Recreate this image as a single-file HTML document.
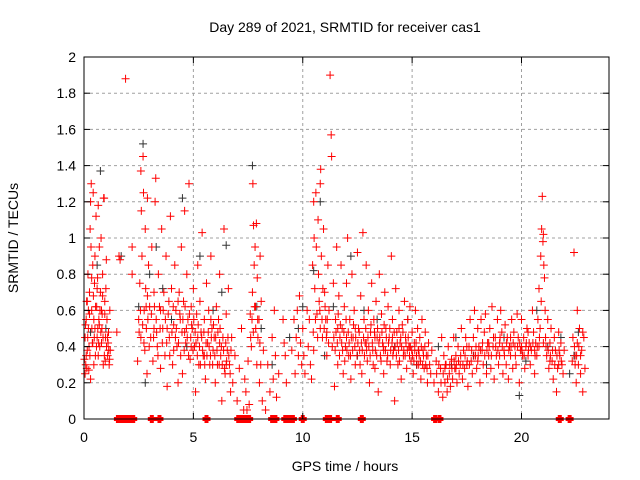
<!DOCTYPE html>
<html><head><meta charset="utf-8">
<style>
html,body{margin:0;padding:0;background:#fff;}
svg{display:block;font-family:"Liberation Sans",sans-serif;}
</style></head>
<body>
<svg id="chart" width="640" height="480" viewBox="0 0 640 480" xmlns="http://www.w3.org/2000/svg">
<rect x="0" y="0" width="640" height="480" fill="#fff"/>
<text x="345" y="32" text-anchor="middle" font-size="14">Day 289 of 2021, SRMTID for receiver cas1</text>
<g id="grid"></g>
<g id="gray"></g>
<g id="red"></g>
<g id="axes"></g>
<text x="345" y="471" text-anchor="middle" font-size="14">GPS time / hours</text>
<text transform="translate(18,238) rotate(-90)" text-anchor="middle" font-size="14">SRMTID / TECUs</text>
</svg>
<script>
const xTicks = [0,5,10,15,20];
const yTicks = [0,0.2,0.4,0.6,0.8,1,1.2,1.4,1.6,1.8,2];
const yTickLabels = ["0","0.2","0.4","0.6","0.8","1","1.2","1.4","1.6","1.8","2"];
const redPts = [
[0.05,0.25],[0.05,0.45],[0.08,0.3],[0.1,0.55],[0.12,0.65],[0.15,0.38],[0.18,0.8],[0.2,0.5],[0.22,0.27],[0.25,0.7],
[0.28,1.05],[0.3,1.2],[0.32,0.95],[0.33,1.3],[0.35,0.6],[0.38,0.42],[0.4,0.85],[0.42,1.25],[0.45,0.55],[0.48,0.75],
[0.5,0.9],[0.52,0.35],[0.55,1.12],[0.58,0.62],[0.6,0.45],[0.62,0.78],[0.65,1.18],[0.68,0.55],[0.7,0.95],[0.72,0.4],
[0.75,0.7],[0.78,1.0],[0.8,0.6],[0.82,0.5],[0.85,0.8],[0.88,0.3],[0.9,1.22],[0.92,1.22],[0.95,0.65],[0.98,0.45],
[1.0,0.72],[1.02,0.88],[1.05,0.55],[1.08,0.35],[1.1,0.42],[1.12,0.48],[1.15,0.3],[1.18,0.6],[1.2,0.38],[0.15,0.65],
[0.25,0.58],[0.4,0.42],[0.6,0.72],[0.7,0.52],[0.85,0.68],[0.3,0.22],[0.45,0.3],[1.5,0.48],[1.6,0.9],[1.65,0.88],
[1.9,1.88],[2.2,0.95],[2.2,0.8],[2.45,0.32],[2.5,0.55],[2.55,0.75],[2.6,1.37],[2.62,1.15],[2.65,0.9],[2.7,1.45],
[2.72,1.25],[2.75,0.6],[2.78,0.38],[2.8,1.05],[2.82,0.72],[2.85,0.5],[2.88,0.25],[2.9,1.22],[2.95,0.85],[3.0,0.62],
[3.05,0.45],[3.1,0.95],[3.15,0.32],[3.2,0.7],[3.25,1.2],[3.28,1.33],[3.3,0.55],[3.35,0.4],[3.4,0.8],[3.45,0.62],
[3.5,0.28],[3.55,1.05],[3.6,0.5],[3.65,0.7],[3.7,0.35],[3.75,0.9],[3.8,0.18],[3.85,0.58],[3.9,0.45],[3.95,1.12],
[4.0,0.72],[4.05,0.3],[4.1,0.52],[4.15,0.85],[4.2,0.6],[4.25,0.4],[4.3,0.2],[4.35,0.7],[4.4,0.55],[4.45,0.95],
[4.5,0.25],[4.55,0.65],[4.6,1.15],[4.65,0.42],[4.7,0.8],[4.75,0.55],[4.8,1.3],[4.85,0.33],[4.9,0.62],[4.95,0.5],
[5.0,0.72],[5.05,0.4],[5.1,0.15],[5.15,0.58],[5.2,0.85],[5.25,0.3],[5.3,0.65],[5.35,0.48],[5.4,1.03],[5.45,0.35],
[5.5,0.55],[5.55,0.22],[5.6,0.75],[5.65,0.42],[5.7,0.6],[5.75,0.3],[5.8,0.9],[5.85,0.5],[5.9,0.38],[5.95,0.45],
[6.0,0.2],[6.05,0.62],[6.1,0.3],[6.15,0.55],[6.2,0.8],[6.25,0.35],[6.3,0.1],[6.35,0.45],[6.4,1.05],[6.45,0.25],
[6.5,0.58],[6.55,0.38],[6.6,0.72],[6.65,0.3],[6.7,0.15],[6.75,0.45],[6.8,0.2],[6.9,0.35],[7.0,0.1],[7.1,0.28],
[7.2,0.5],[7.3,0.05],[7.35,0.22],[7.4,0.15],[7.45,0.05],[7.5,0.32],[7.55,0.08],[7.6,0.58],[7.65,0.4],[7.7,0.7],
[7.72,1.3],[7.75,1.07],[7.78,0.85],[7.8,0.62],[7.82,0.95],[7.85,0.5],[7.88,1.08],[7.9,0.3],[7.92,0.78],[7.95,0.45],
[8.0,0.55],[8.02,0.2],[8.05,0.9],[8.1,0.65],[8.15,0.1],[8.2,0.38],[8.3,0.05],[8.4,0.3],[8.5,0.15],[8.6,0.45],
[8.65,0.22],[8.7,0.6],[8.75,0.35],[8.8,0.12],[8.9,0.25],[9.1,0.55],[9.15,0.42],[9.2,0.35],[9.25,0.2],[9.5,0.38],
[9.6,0.55],[9.65,0.25],[9.7,0.45],[9.75,0.6],[9.8,0.35],[9.85,0.68],[9.9,0.42],[9.95,0.3],[10.0,0.5],[10.05,0.35],
[10.1,0.25],[10.2,0.6],[10.25,0.4],[10.3,0.55],[10.35,0.3],[10.4,0.22],[10.45,0.85],[10.5,1.2],[10.52,1.0],[10.55,0.72],
[10.6,1.25],[10.62,0.95],[10.65,0.58],[10.7,1.1],[10.72,0.8],[10.75,0.65],[10.8,1.3],[10.82,1.38],[10.85,0.9],[10.9,0.45],
[10.95,1.05],[11.0,0.7],[11.05,0.55],[11.1,0.35],[11.15,0.85],[11.2,0.6],[11.25,1.9],[11.3,1.57],[11.32,1.45],[11.35,0.4],
[11.4,0.75],[11.45,0.18],[11.5,0.55],[11.55,0.95],[11.6,0.3],[11.65,0.68],[11.7,0.45],[11.75,0.85],[11.8,0.5],[11.85,0.25],
[11.9,0.62],[11.95,0.4],[12.0,0.75],[12.05,1.0],[12.1,0.35],[12.15,0.55],[12.2,0.22],[12.25,0.8],[12.3,0.45],[12.35,0.6],
[12.4,0.3],[12.5,0.92],[12.55,0.5],[12.6,0.38],[12.65,0.68],[12.7,0.25],[12.75,1.03],[12.8,0.55],[12.85,0.42],[12.9,0.85],
[12.95,0.32],[13.0,0.6],[13.05,0.2],[13.1,0.48],[13.15,0.75],[13.2,0.38],[13.25,0.55],[13.3,0.28],[13.35,0.65],[13.4,0.45],
[13.45,0.15],[13.5,0.8],[13.55,0.35],[13.6,0.58],[13.65,0.42],[13.7,0.25],[13.75,0.7],[13.8,0.5],[13.85,0.32],[13.9,0.62],
[13.95,0.45],[14.0,0.3],[14.05,0.9],[14.1,0.55],[14.15,0.38],[14.2,0.1],[14.25,0.72],[14.3,0.48],[14.35,0.3],[14.4,0.6],
[14.45,0.42],[14.5,0.22],[14.55,0.52],[14.6,0.35],[14.65,0.65],[14.7,0.45],[14.75,0.28],[14.8,0.55],[14.85,0.4],[14.9,0.62],
[14.95,0.32],[15.0,0.48],[15.05,0.25],[15.1,0.42],[15.15,0.6],[15.2,0.35],[15.25,0.5],[15.3,0.3],[15.35,0.45],[15.4,0.22],
[15.45,0.55],[15.5,0.38],[15.55,0.28],[15.6,0.48],[15.65,0.35],[15.7,0.2],[15.75,0.42],[15.8,0.3],[15.85,0.25],[15.9,0.38],
[16.0,0.2],[16.1,0.32],[16.2,0.15],[16.3,0.28],[16.35,0.45],[16.4,0.12],[16.45,0.35],[16.5,0.2],[16.55,0.3],[16.6,0.15],
[16.65,0.4],[16.7,0.25],[16.75,0.18],[16.8,0.33],[16.85,0.22],[16.9,0.45],[16.95,0.28],[17.0,0.35],[17.05,0.2],[17.1,0.4],
[17.15,0.25],[17.2,0.3],[17.25,0.5],[17.3,0.22],[17.35,0.38],[17.4,0.28],[17.45,0.45],[17.5,0.3],[17.55,0.18],[17.6,0.4],
[17.65,0.55],[17.7,0.32],[17.75,0.25],[17.8,0.45],[17.85,0.6],[17.9,0.35],[17.95,0.28],[18.0,0.5],[18.05,0.4],[18.1,0.2],
[18.15,0.55],[18.2,0.38],[18.25,0.3],[18.3,0.48],[18.35,0.58],[18.4,0.25],[18.45,0.42],[18.5,0.35],[18.55,0.5],[18.6,0.28],
[18.65,0.62],[18.7,0.4],[18.75,0.22],[18.8,0.45],[18.85,0.35],[18.9,0.55],[18.95,0.3],[19.0,0.42],[19.05,0.6],[19.1,0.48],
[19.15,0.25],[19.2,0.38],[19.25,0.52],[19.3,0.3],[19.35,0.45],[19.4,0.22],[19.45,0.4],[19.5,0.35],[19.55,0.55],[19.6,0.28],
[19.65,0.48],[19.7,0.4],[19.75,0.3],[19.8,0.58],[19.85,0.45],[19.9,0.2],[19.95,0.38],[20.0,0.55],[20.05,0.35],[20.1,0.45],
[20.15,0.28],[20.2,0.4],[20.25,0.5],[20.3,0.35],[20.35,0.42],[20.4,0.3],[20.45,0.38],[20.5,0.6],[20.55,0.48],[20.6,0.25],
[20.65,0.42],[20.7,0.35],[20.75,0.55],[20.8,0.72],[20.85,0.5],[20.88,0.9],[20.9,0.65],[20.92,1.05],[20.95,1.23],[20.98,0.98],
[21.0,1.02],[21.02,0.85],[21.05,0.78],[21.08,0.6],[21.1,0.45],[21.15,0.35],[21.2,0.55],[21.25,0.28],[21.3,0.42],[21.35,0.5],
[21.4,0.32],[21.45,0.22],[21.5,0.45],[21.55,0.38],[21.6,0.15],[21.65,0.28],[21.7,0.48],[21.75,0.35],[21.8,0.42],[21.85,0.3],
[21.9,0.25],[21.95,0.38],[22.35,0.45],[22.4,0.92],[22.45,0.35],[22.5,0.2],[22.55,0.6],[22.6,0.3],[22.65,0.5],[22.7,0.25],
[22.75,0.38],[22.8,0.15],[22.85,0.45],[22.9,0.28],[22.55,0.42],[22.45,0.3],[22.7,0.35],[22.8,0.48],
[0.1,0.35],[0.2,0.6],[0.35,0.78],[0.5,0.5],[0.65,0.35],[0.8,0.42],[0.95,0.58],[2.6,0.45],[2.9,0.68],[3.2,0.5],
[3.5,0.6],[3.8,0.5],[4.1,0.38],[4.3,0.65],[4.6,0.48],[4.9,0.4],[5.2,0.45],[5.5,0.35],[5.8,0.55],[6.2,0.42],
[6.5,0.3],[10.5,0.38],[10.8,0.5],[11.1,0.48],[11.6,0.5],[12.0,0.45],[12.4,0.5],[12.9,0.42],[13.3,0.45],[13.7,0.38],
[14.1,0.45],[14.4,0.5],[14.9,0.4],[15.3,0.38],[16.5,0.28],[17.0,0.28],[17.5,0.4],[18.0,0.32],[18.5,0.42],[19.0,0.35],
[19.5,0.45],[20.0,0.4],[20.3,0.48],[20.6,0.38],[20.8,0.4],[21.0,0.42],[21.3,0.32],[21.7,0.3],
[0.02,0.33],[0.07,0.52],[0.13,0.28],[0.17,0.45],[0.23,0.4],[0.27,0.35],[0.36,0.5],[0.43,0.68],[0.47,0.45],[0.53,0.62],
[0.57,0.4],[0.63,0.5],[0.67,0.42],[0.73,0.6],[0.77,0.48],[0.83,0.58],[0.87,0.45],[0.93,0.35],[0.97,0.32],[1.03,0.4],
[1.07,0.45],[1.13,0.38],[1.17,0.33],[2.52,0.48],[2.58,0.6],[2.68,0.52],[2.74,0.42],[2.84,0.62],[2.92,0.55],[2.98,0.4],
[3.08,0.58],[3.18,0.45],[3.22,0.62],[3.32,0.48],[3.38,0.35],[3.48,0.5],[3.58,0.42],[3.62,0.6],[3.72,0.55],[3.78,0.42],
[3.88,0.65],[3.92,0.35],[4.02,0.48],[4.08,0.62],[4.18,0.45],[4.22,0.5],[4.32,0.42],[4.38,0.58],[4.42,0.35],[4.48,0.48],
[4.52,0.55],[4.58,0.38],[4.62,0.62],[4.68,0.5],[4.72,0.45],[4.78,0.35],[4.82,0.58],[4.88,0.45],[4.92,0.52],[4.98,0.38],
[5.02,0.55],[5.08,0.48],[5.12,0.42],[5.18,0.35],[5.22,0.52],[5.28,0.4],[5.32,0.3],[5.38,0.45],[5.42,0.38],[5.48,0.48],
[5.52,0.3],[5.58,0.42],[5.62,0.35],[5.68,0.48],[5.72,0.4],[5.78,0.35],[5.82,0.45],[5.88,0.3],[5.92,0.52],[5.98,0.35],
[6.02,0.45],[6.08,0.38],[6.12,0.48],[6.18,0.3],[6.22,0.5],[6.28,0.4],[6.32,0.3],[6.38,0.38],[6.42,0.28],[6.48,0.42],
[6.52,0.32],[6.58,0.45],[6.62,0.35],[6.68,0.25],[6.72,0.38],[7.62,0.45],[7.68,0.55],[7.74,0.48],[7.84,0.62],[7.94,0.55],
[8.04,0.42],[8.08,0.3],[10.48,0.48],[10.58,0.55],[10.68,0.45],[10.78,0.6],[10.88,0.55],[10.92,0.72],[10.98,0.5],[11.02,0.62],
[11.08,0.45],[11.12,0.55],[11.18,0.42],[11.42,0.45],[11.48,0.38],[11.52,0.48],[11.58,0.42],[11.62,0.58],[11.68,0.35],[11.72,0.52],
[11.78,0.42],[11.82,0.38],[11.88,0.48],[11.92,0.32],[11.98,0.55],[12.02,0.38],[12.08,0.48],[12.12,0.42],[12.18,0.35],[12.22,0.45],
[12.28,0.38],[12.32,0.52],[12.38,0.4],[12.42,0.45],[12.48,0.35],[12.52,0.42],[12.58,0.48],[12.62,0.3],[12.68,0.42],[12.72,0.38],
[12.78,0.45],[12.82,0.35],[12.88,0.5],[12.92,0.38],[12.98,0.45],[13.02,0.4],[13.08,0.35],[13.12,0.52],[13.18,0.42],[13.22,0.3],
[13.28,0.48],[13.32,0.38],[13.38,0.35],[13.42,0.5],[13.48,0.42],[13.52,0.45],[13.58,0.32],[13.62,0.48],[13.68,0.4],[13.72,0.52],
[13.78,0.38],[13.82,0.45],[13.88,0.35],[13.92,0.42],[13.98,0.5],[14.02,0.38],[14.08,0.42],[14.12,0.35],[14.18,0.48],[14.22,0.4],
[14.28,0.35],[14.32,0.42],[14.38,0.38],[14.42,0.32],[14.48,0.45],[14.52,0.4],[14.58,0.48],[14.62,0.38],[14.68,0.35],[14.72,0.42],
[14.78,0.38],[14.82,0.45],[14.88,0.35],[14.92,0.4],[14.98,0.38],[15.02,0.35],[15.08,0.32],[15.12,0.38],[15.18,0.42],[15.22,0.3],
[15.28,0.38],[15.32,0.35],[15.38,0.32],[15.42,0.4],[15.48,0.3],[15.52,0.35],[15.58,0.4],[15.62,0.3],[15.68,0.28],[15.72,0.35],
[16.12,0.25],[16.22,0.3],[16.32,0.2],[16.42,0.25],[16.52,0.3],[16.62,0.22],[16.72,0.3],[16.82,0.28],[16.92,0.32],[17.02,0.3],
[17.12,0.32],[17.22,0.35],[17.32,0.3],[17.42,0.35],[17.52,0.32],[17.62,0.3],[17.72,0.38],[17.82,0.35],[17.92,0.4],[18.02,0.35],
[18.12,0.38],[18.22,0.42],[18.32,0.35],[18.42,0.38],[18.52,0.4],[18.62,0.35],[18.72,0.45],[18.82,0.4],[18.92,0.38],[19.02,0.45],
[19.12,0.4],[19.22,0.35],[19.32,0.42],[19.42,0.38],[19.52,0.4],[19.62,0.42],[19.72,0.35],[19.82,0.4],[19.92,0.42],[20.02,0.38],
[20.12,0.35],[20.22,0.42],[20.32,0.38],[20.42,0.4],[20.52,0.42],[20.62,0.35],[20.72,0.4],[20.82,0.45],[21.12,0.4],[21.22,0.38],
[21.32,0.35],[21.42,0.38],[21.52,0.3],[21.62,0.35],[21.72,0.38],[21.82,0.32],[22.32,0.32],[22.42,0.4],[22.52,0.35],[22.62,0.4]
];
const grayPts = [
[0.3,0.48],[0.6,0.85],[0.75,1.37],[1.0,0.5],[1.7,0.9],[2.5,0.62],[2.7,1.52],[2.8,0.2],[3.3,0.95],[3.6,0.72],
[4.5,1.22],[4.7,0.4],[5.3,0.9],[5.9,0.6],[6.3,0.7],[6.5,0.96],[7.7,1.4],[7.9,0.62],[8.1,0.5],[8.6,0.3],
[9.4,0.45],[10.0,0.62],[10.5,0.82],[10.8,1.2],[11.0,0.35],[11.4,0.62],[12.2,0.9],[12.8,0.6],[13.4,0.55],[14.2,0.4],
[14.8,0.55],[15.2,0.3],[16.2,0.4],[17.0,0.45],[17.8,0.35],[18.4,0.3],[19.2,0.45],[19.9,0.13],[20.7,0.6],[21.2,0.4],
[21.8,0.45],[22.6,0.48],[22.4,0.35],[22.2,0.25],[4.0,0.55],[3.0,0.8],[9.8,0.5],[12.5,0.35],[16.8,0.3],[20.2,0.32]
];
const zeroTimes = [1.55,1.65,1.75,1.85,1.95,2.05,2.15,2.25,3.1,3.45,5.6,7.05,7.15,7.25,7.35,7.45,7.55,8.6,8.75,9.2,9.3,9.4,9.55,10.0,11.1,11.25,11.6,12.7,16.05,16.25,21.75,22.2];

const NS='http://www.w3.org/2000/svg';
const L=84,R=609,T=57,B=419;
function xs(t){return L+(t/24)*(R-L);}
function ys(v){return B-(v/2)*(B-T);}
function mk(tag,attrs,parent){const e=document.createElementNS(NS,tag);for(const k in attrs)e.setAttribute(k,attrs[k]);parent.appendChild(e);return e;}

const grid=document.getElementById('grid');
const axes=document.getElementById('axes');
yTicks.forEach((v,i)=>{
  if(v>0&&v<2){const g=mk('line',{x1:L,x2:R,y1:ys(v),y2:ys(v),stroke:'#a0a0a0','stroke-dasharray':'3,3','stroke-width':1},grid);
  
  }
  mk('line',{x1:L,x2:L+6,y1:ys(v),y2:ys(v),stroke:'#000'},axes);
  mk('line',{x1:R,x2:R-6,y1:ys(v),y2:ys(v),stroke:'#000'},axes);
  const t=mk('text',{x:L-8,y:ys(v)+5,'text-anchor':'end','font-size':'14'},axes);
  t.textContent=yTickLabels[i];
  
  
});
xTicks.forEach(v=>{
  if(v>0){const g=mk('line',{x1:xs(v),x2:xs(v),y1:T,y2:B,stroke:'#a0a0a0','stroke-dasharray':'3,3','stroke-width':1},grid);
  
  }
  mk('line',{x1:xs(v),x2:xs(v),y1:B,y2:B-6,stroke:'#000'},axes);
  mk('line',{x1:xs(v),x2:xs(v),y1:T,y2:T+6,stroke:'#000'},axes);
  const t=mk('text',{x:xs(v),y:B+23,'text-anchor':'middle','font-size':'14'},axes);
  t.textContent=String(v);
  
  
});
const frame=mk('rect',{x:L,y:T,width:R-L,height:B-T,fill:'none',stroke:'#000','stroke-width':1},axes);



function cross(parent,t,v,color){
  const x=xs(t),y=ys(v);
  return mk('path',{d:`M${x-4},${y}H${x+4}M${x},${y-4}V${y+4}`,stroke:color,'stroke-width':1,fill:'none'},parent);
}
const gray=document.getElementById('gray');
grayPts.forEach(p=>{
  const e=cross(gray,p[0],p[1],'#333');
  
  
});
const red=document.getElementById('red');
redPts.forEach(p=>{
  const e=cross(red,p[0],p[1],'#ff0000');
  
  
});
zeroTimes.forEach(t=>{
  const e=cross(red,t,0,'#ff0000');
  e.setAttribute('stroke-width','4');
  
  
});
</script>
</body></html>
